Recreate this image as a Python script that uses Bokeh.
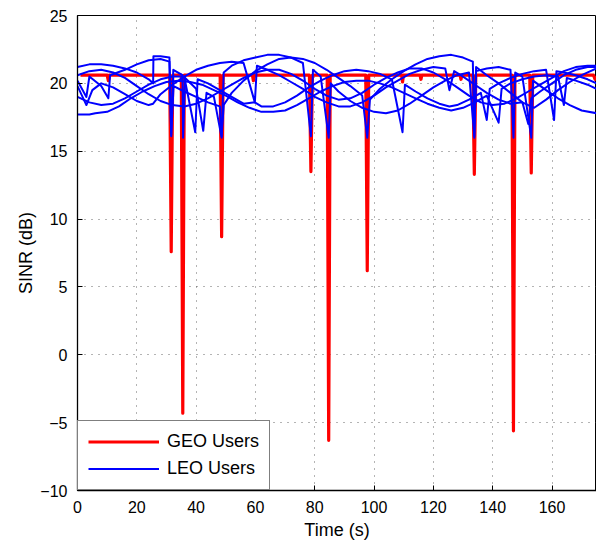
from bokeh.plotting import figure
from bokeh.models import Range1d, FixedTicker, Legend, LegendItem
from bokeh.embed import file_html
from bokeh.resources import INLINE

# ---------------- data ----------------
x_ticks = [0, 20, 40, 60, 80, 100, 120, 140, 160]
y_ticks = [-10, -5, 0, 5, 10, 15, 20, 25]

geo_t = [1, 10, 10.4, 10.8, 31.1, 31.6, 32.1, 35.0, 35.5, 36.0, 48.1, 48.6, 49.1,
         59.0, 59.3, 59.6, 78.2, 78.7, 79.2, 84.2, 84.7, 85.2, 97.2, 97.7, 98.2,
         109.3, 109.6, 109.9, 115.5, 115.8, 116.1, 129.0, 129.3, 129.6, 133.3, 133.8, 134.3,
         146.5, 147.0, 147.5, 152.5, 153.0, 153.5, 174.0, 174.5, 175]
geo_sinr = [20.6, 20.6, 20.2, 20.6, 20.6, 7.6, 20.6, 20.6, -4.3, 20.6, 20.6, 8.7, 20.6,
            20.6, 20.2, 20.6, 20.6, 13.5, 20.6, 20.6, -6.3, 20.6, 20.6, 6.2, 20.6,
            20.6, 20.1, 20.6, 20.6, 20.3, 20.6, 20.6, 20.3, 20.6, 20.6, 13.3, 20.6,
            20.6, -5.6, 20.6, 20.6, 13.4, 20.6, 20.6, 20.3, 20.5]

leo1_t = [0, 4, 8, 12, 16, 20, 24, 25.5, 25.6, 28, 31, 31.6, 32.4, 36, 40, 44, 48, 48.6, 49.3,
          52, 56, 60, 64, 68, 72, 76, 80, 84, 88, 92, 96, 97.7, 98.6, 102, 106, 110, 114,
          118, 122, 126, 130, 133.3, 133.8, 134.4, 138, 142, 146, 150, 154, 158, 162, 166, 170, 175]
leo1_sinr = [21.2, 21.4, 21.4, 21.3, 21.1, 20.8, 20.3, 20.0, 22.0, 22.0, 21.9, 16.2, 19.8, 19.4,
             19.0, 18.6, 18.3, 16.1, 18.4, 19.3, 20.2, 20.9, 21.4, 21.8, 21.9, 21.8, 21.5, 21.0,
             20.4, 19.8, 19.1, 16.0, 18.8, 19.6, 20.3, 20.9, 21.4, 21.8, 22.0, 22.1, 21.9, 21.6,
             16.0, 21.2, 20.6, 20.0, 19.3, 18.6, 18.2, 18.8, 19.5, 20.1, 20.6, 21.1]

leo2_t = [0, 3, 4, 8, 10.4, 11, 16, 20, 24, 28, 31, 31.6, 32.3, 35.4, 35.6, 36.3, 40, 42.4, 43.5,
          46, 48.6, 49.3, 52, 56, 60, 64, 68, 72, 76, 78.7, 79.4, 82, 84.7, 85.4, 88, 92, 96,
          100, 104, 108, 112, 116, 120, 124, 128, 132, 133.8, 134.4, 138, 142, 146, 147, 147.6,
          150, 153, 153.6, 158, 162, 166, 170, 175]
leo2_sinr = [20.2, 19.0, 20.5, 19.8, 18.9, 20.6, 21.0, 21.4, 21.7, 21.8, 21.6, 16.1, 21.0, 20.6,
             16.0, 20.4, 19.6, 16.5, 19.3, 19.0, 16.0, 20.8, 21.3, 21.7, 21.9, 22.1, 22.1, 21.9,
             21.5, 16.1, 21.0, 20.5, 16.0, 20.0, 19.4, 18.7, 18.2, 17.9, 17.8, 18.0, 18.5, 19.1,
             19.7, 20.2, 20.6, 20.8, 16.1, 20.9, 21.1, 21.2, 21.0, 16.0, 20.8, 20.5, 16.0, 20.2,
             19.5, 18.9, 18.4, 18.0, 17.8]

leo3_t = [0, 4, 8, 12, 16, 20, 24, 28, 32, 36, 39.7, 40.5, 44, 48, 52, 56, 59.8, 62, 66, 70, 74,
          78, 82, 86, 90, 94, 98, 102, 106, 109.6, 110.4, 114, 118, 122, 125.4, 128, 132, 136,
          138, 139, 142, 146, 150, 154, 158, 160.7, 161.5, 164, 168, 172, 175]
leo3_sinr = [19.0, 18.6, 18.4, 18.5, 18.9, 19.4, 19.9, 20.3, 20.5, 20.5, 16.4, 20.3, 20.0, 19.5,
             19.0, 18.5, 18.6, 18.3, 18.3, 18.6, 19.1, 19.7, 20.2, 20.6, 20.9, 21.0, 20.9, 20.7,
             20.3, 16.4, 19.9, 19.4, 18.9, 18.5, 18.3, 18.4, 18.8, 19.3, 17.3, 19.6, 20.0, 20.4,
             20.7, 20.9, 21.0, 17.3, 20.9, 20.8, 20.6, 20.3, 20.0]

leo4_t = [0, 4, 6, 10, 14, 18, 22, 26, 30, 34, 38, 42, 46, 50, 54, 58, 62, 66, 70, 74, 78, 82,
          86, 90, 94, 98, 102, 106, 110, 114, 118, 122, 126, 130, 134, 138, 142, 143, 146, 150,
          154, 158, 162, 164, 165, 168, 172, 175]
leo4_sinr = [17.7, 17.7, 17.8, 17.9, 18.3, 18.9, 19.4, 19.8, 20.1, 20.2, 20.1, 19.9, 19.5, 19.1,
             18.6, 18.2, 17.9, 17.9, 18.0, 18.4, 18.9, 19.4, 19.8, 20.1, 20.2, 20.2, 20.0, 19.7,
             19.3, 18.9, 18.5, 18.2, 18.0, 18.2, 18.6, 19.1, 17.1, 19.6, 20.0, 20.3, 20.5, 20.6,
             20.5, 18.4, 20.4, 20.2, 19.9, 19.6]

leo5_t = [0, 3, 5, 8, 12, 16, 20, 24, 25.5, 28, 32, 36, 40, 44, 48, 52, 56, 59.8, 60.5, 64, 68,
          72, 76, 80, 84, 88, 92, 96, 100, 104, 108, 112, 116, 120, 124, 125.4, 127, 130, 134,
          138, 142, 146, 150, 152, 153, 156, 160, 164, 168, 172, 175]
leo5_sinr = [19.8, 18.4, 19.5, 20.0, 19.7, 19.2, 18.7, 18.4, 18.5, 19.2, 19.9, 20.5, 21.0, 21.3,
             21.5, 21.6, 21.5, 18.6, 21.3, 21.0, 20.6, 20.1, 19.6, 19.0, 18.6, 18.3, 18.3, 18.6,
             19.1, 19.7, 20.2, 20.7, 21.0, 21.2, 21.1, 19.5, 20.9, 20.5, 19.9, 19.3, 18.8, 18.5,
             18.6, 17.0, 18.9, 19.4, 20.0, 20.6, 21.0, 21.2, 21.2]

leo6_t = [0, 4, 8, 12, 16, 20, 24, 28, 32, 36, 40, 44, 48, 52, 56, 60, 64, 68, 72, 76, 80, 84,
          88, 92, 96, 100, 104, 108, 112, 116, 120, 124, 128, 132, 136, 140, 144, 148, 152, 156,
          160, 164, 168, 172, 175]
leo6_sinr = [20.6, 20.9, 21.0, 20.8, 20.4, 19.8, 19.2, 18.7, 18.4, 18.3, 18.5, 18.9, 19.4, 19.9,
             20.4, 20.8, 21.0, 21.0, 20.7, 20.2, 19.6, 19.1, 18.8, 18.9, 19.3, 19.9, 20.4, 20.8,
             21.1, 21.1, 20.8, 20.3, 19.7, 19.1, 18.6, 18.4, 18.5, 18.9, 19.4, 19.9, 20.4, 20.9,
             21.2, 21.3, 21.3]

leo_series = [(leo1_t, leo1_sinr), (leo2_t, leo2_sinr), (leo3_t, leo3_sinr),
              (leo4_t, leo4_sinr), (leo5_t, leo5_sinr), (leo6_t, leo6_sinr)]

# ---------------- figure ----------------
FONT = "Liberation Sans"
p = figure(width=596, height=545, output_backend="svg", toolbar_location=None,
           x_range=Range1d(0, 175), y_range=Range1d(-10, 25),
           min_border_left=77, min_border_right=0, min_border_top=15, min_border_bottom=55,
           background_fill_color="white", border_fill_color="white")

p.outline_line_color = "black"
p.outline_line_width = 1

red = p.line(geo_t, geo_sinr, line_color="#ff0000", line_width=3.2, line_join="round")
blues = []
for t, v in leo_series:
    blues.append(p.line(t, v, line_color="#0000ff", line_width=2, line_join="round"))

for ax in (p.xaxis[0], p.yaxis[0]):
    ax.major_tick_in = 5
    ax.major_tick_out = 0
    ax.minor_tick_in = 0
    ax.minor_tick_out = 0
    ax.axis_line_color = "black"
    ax.axis_line_width = 1.3
    ax.major_tick_line_color = "black"
    ax.major_label_text_font = FONT
    ax.major_label_text_font_size = "16px"
    ax.major_label_text_color = "black"
    ax.axis_label_text_font = FONT
    ax.axis_label_text_font_size = "18px"
    ax.axis_label_text_font_style = "normal"
    ax.axis_label_text_color = "black"

p.xaxis.ticker = FixedTicker(ticks=x_ticks)
p.yaxis.ticker = FixedTicker(ticks=y_ticks)
p.yaxis.major_label_overrides = {-10: "\u221210", -5: "\u22125"}
p.xaxis.axis_label = "Time (s)"
p.yaxis.axis_label = "SINR (dB)"
p.xaxis.major_label_standoff = 10
p.yaxis.major_label_standoff = 10
p.xaxis.axis_label_standoff = 4
p.yaxis.axis_label_standoff = 1

for g in (p.xgrid[0], p.ygrid[0]):
    g.grid_line_color = "#444444"
    g.grid_line_dash = "1 6"
    g.grid_line_width = 1
    g.grid_line_alpha = 0.8

legend = Legend(items=[LegendItem(label="GEO Users", renderers=[red]),
                       LegendItem(label="LEO Users", renderers=[blues[0]])],
                location="bottom_left", margin=0, padding=10, spacing=6,
                glyph_width=71, glyph_height=21, label_standoff=8,
                label_text_font=FONT, label_text_font_size="18px",
                label_text_color="black",
                border_line_color="black", border_line_width=1.5,
                background_fill_color="white", background_fill_alpha=1)
p.add_layout(legend, "center")

open("out.html", "w").write(file_html(p, INLINE))
